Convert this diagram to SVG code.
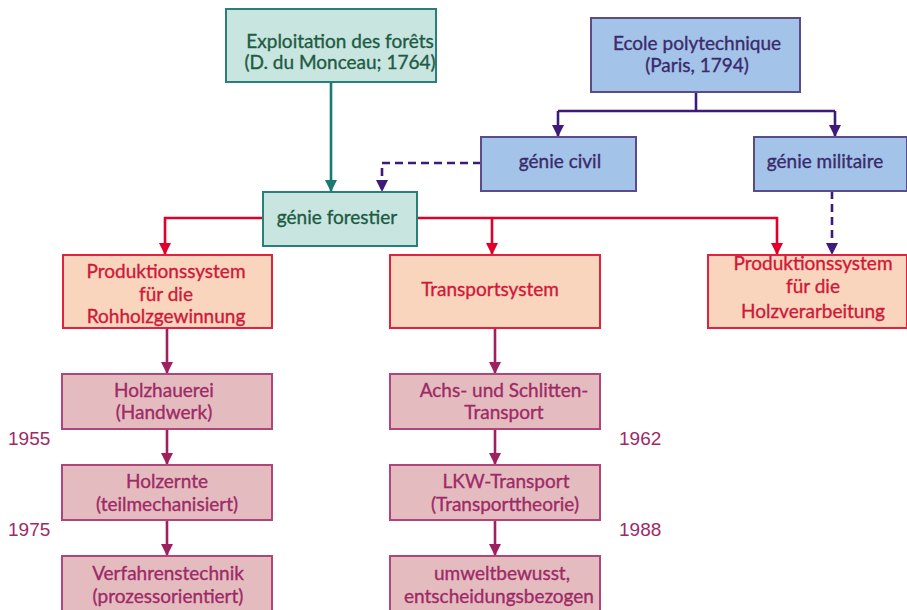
<svg xmlns="http://www.w3.org/2000/svg" width="907" height="610" viewBox="0 0 907 610">
<style>
.t{font-family:"Lato","Open Sans","Liberation Sans",sans-serif;font-size:19px;text-anchor:middle;stroke-width:0.35}
.teal rect{fill:#c9e5df;stroke:#2a7f7a;stroke-width:2}
.teal text{fill:#1e5b45;stroke:#1e5b45}
.blue rect{fill:#a3c3e8;stroke:#5b4b8b;stroke-width:2}
.blue text{fill:#3b2b6b;stroke:#3b2b6b}
.org rect{fill:#f9d5bd;stroke:#e0213f;stroke-width:2}
.org text{fill:#d0183a;stroke:#d0183a}
.pink rect{fill:#e4bcc0;stroke:#b0457a;stroke-width:2}
.pink text{fill:#9e2a66;stroke:#9e2a66}
.yr{font-family:"Liberation Sans",Arial,sans-serif;font-size:19px;fill:#9e2a66}
.c{fill:none;stroke-width:2.6}
</style>
<defs>
<marker id="aT" viewBox="0 0 12 12" refX="12" refY="6" markerWidth="12" markerHeight="12" markerUnits="userSpaceOnUse" orient="auto"><path d="M0,0 L12,6 L0,12 z" fill="#1a7a72"/></marker>
<marker id="aP" viewBox="0 0 12 12" refX="12" refY="6" markerWidth="12" markerHeight="12" markerUnits="userSpaceOnUse" orient="auto"><path d="M0,0 L12,6 L0,12 z" fill="#3e1a7a"/></marker>
<marker id="aR" viewBox="0 0 12 12" refX="12" refY="6" markerWidth="12" markerHeight="12" markerUnits="userSpaceOnUse" orient="auto"><path d="M0,0 L12,6 L0,12 z" fill="#e0002a"/></marker>
<marker id="aM" viewBox="0 0 12 12" refX="12" refY="6" markerWidth="12" markerHeight="12" markerUnits="userSpaceOnUse" orient="auto"><path d="M0,0 L12,6 L0,12 z" fill="#a0205f"/></marker>
</defs>
<rect width="907" height="610" fill="#ffffff"/>
<g id="connectors">
<path class="c" stroke="#1a7a72" d="M331 82 V192" marker-end="url(#aT)"/>
<path class="c" stroke="#3e1a7a" d="M696 92 V111 M558 111 H835"/>
<path class="c" stroke="#3e1a7a" d="M558 111 V137" marker-end="url(#aP)"/>
<path class="c" stroke="#3e1a7a" d="M835 111 V137" marker-end="url(#aP)"/>
<path class="c" stroke="#3e1a7a" stroke-dasharray="8,5" d="M481 163 H382 V192" marker-end="url(#aP)"/>
<path class="c" stroke="#3e1a7a" stroke-dasharray="8,5" d="M832 191 V255" marker-end="url(#aP)"/>
<path class="c" stroke="#e0002a" d="M263 218 H165 V255" marker-end="url(#aR)"/>
<path class="c" stroke="#e0002a" d="M417 218 H777 V255" marker-end="url(#aR)"/>
<path class="c" stroke="#e0002a" d="M492 218 V255" marker-end="url(#aR)"/>
<path class="c" stroke="#a0205f" d="M167 328 V374" marker-end="url(#aM)"/>
<path class="c" stroke="#a0205f" d="M167 429 V465" marker-end="url(#aM)"/>
<path class="c" stroke="#a0205f" d="M167 520 V556" marker-end="url(#aM)"/>
<path class="c" stroke="#a0205f" d="M495 328 V374" marker-end="url(#aM)"/>
<path class="c" stroke="#a0205f" d="M495 429 V465" marker-end="url(#aM)"/>
<path class="c" stroke="#a0205f" d="M495 520 V556" marker-end="url(#aM)"/>
</g>
<g id="exploitation" class="teal"><rect x="226" y="9" width="210" height="73"/><text class="t" x="340" y="48">Exploitation des forêts</text><text class="t" x="340" y="69">(D. du Monceau; 1764)</text></g>
<g id="ecole" class="blue"><rect x="591" y="18" width="209" height="74"/><text class="t" x="697" y="50">Ecole polytechnique</text><text class="t" x="697" y="72">(Paris, 1794)</text></g>
<g id="civil" class="blue"><rect x="481" y="137" width="155" height="54"/><text class="t" x="560" y="168">génie civil</text></g>
<g id="militaire" class="blue"><rect x="754" y="137" width="153" height="54"/><text class="t" x="825" y="168">génie militaire</text></g>
<g id="forestier" class="teal"><rect x="263" y="192" width="154" height="54"/><text class="t" x="337" y="224">génie forestier</text></g>
<g id="prod1" class="org"><rect x="63" y="255" width="209" height="73"/><text class="t" x="166" y="278">Produktionssystem</text><text class="t" x="166" y="301">für die</text><text class="t" x="166" y="323">Rohholzgewinnung</text></g>
<g id="transport" class="org"><rect x="390" y="255" width="210" height="73"/><text class="t" x="490" y="296">Transportsystem</text></g>
<g id="prod2" class="org"><rect x="708" y="255" width="199" height="73"/><text class="t" x="813" y="270">Produktionssystem</text><text class="t" x="813" y="293">für die</text><text class="t" x="813" y="318">Holzverarbeitung</text></g>
<g id="holzhauerei" class="pink"><rect x="62" y="374" width="210" height="55"/><text class="t" x="164" y="397">Holzhauerei</text><text class="t" x="164" y="419">(Handwerk)</text></g>
<g id="holzernte" class="pink"><rect x="62" y="465" width="210" height="55"/><text class="t" x="167" y="488">Holzernte</text><text class="t" x="167" y="511">(teilmechanisiert)</text></g>
<g id="verfahren" class="pink"><rect x="62" y="556" width="210" height="60"/><text class="t" x="168" y="580">Verfahrenstechnik</text><text class="t" x="168" y="603">(prozessorientiert)</text></g>
<g id="achs" class="pink"><rect x="390" y="374" width="210" height="55"/><text class="t" x="504" y="397">Achs- und Schlitten-</text><text class="t" x="504" y="419">Transport</text></g>
<g id="lkw" class="pink"><rect x="390" y="465" width="210" height="55"/><text class="t" x="506" y="488">LKW-Transport</text><text class="t" x="505" y="511">(Transporttheorie)</text></g>
<g id="umwelt" class="pink"><rect x="390" y="556" width="210" height="60"/><text class="t" x="502" y="580">umweltbewusst,</text><text class="t" x="499" y="603">entscheidungsbezogen</text></g>
<g id="years">
<text class="yr" x="8" y="445">1955</text>
<text class="yr" x="8" y="536">1975</text>
<text class="yr" x="619" y="445">1962</text>
<text class="yr" x="619" y="536">1988</text>
</g>
</svg>
